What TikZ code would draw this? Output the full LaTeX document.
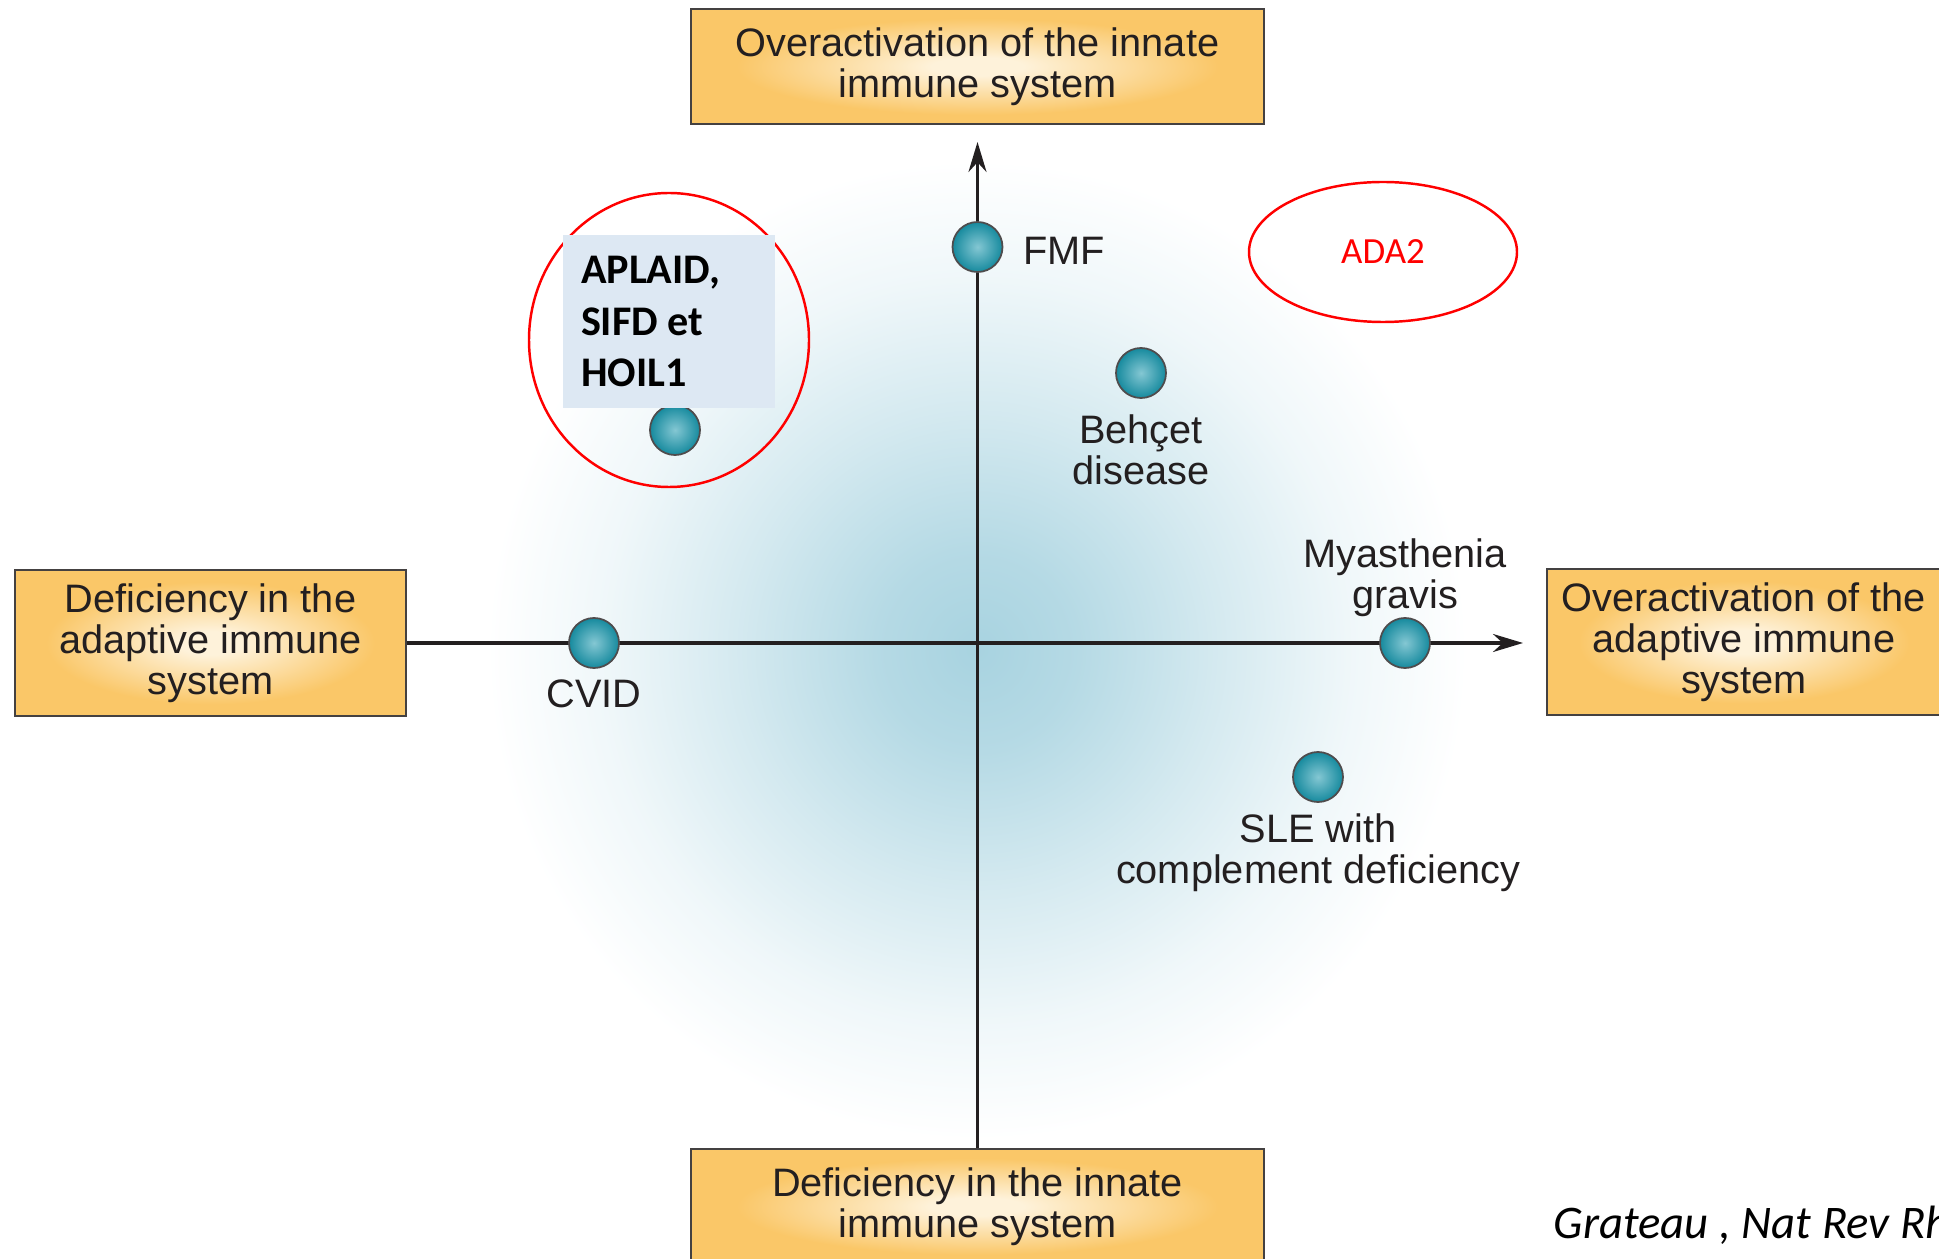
\documentclass[tikz,border=0pt]{standalone}
\usepackage{fontspec}
\setmainfont{Liberation Sans}
\newfontfamily\calibri{Carlito}
\usepackage{tikz}
\usetikzlibrary{shapes,arrows,arrows.meta,positioning,calc}
\definecolor{ink}{RGB}{35,31,32}
\definecolor{boxout}{RGB}{250,199,104}
\definecolor{boxin}{RGB}{254,242,218}
\definecolor{glowc}{RGB}{168,211,224}
\definecolor{dotout}{RGB}{22,138,158}
\definecolor{dotin}{RGB}{132,199,211}
\definecolor{tagblue}{RGB}{221,232,243}
\pgfdeclareradialshading{glowshade}{\pgfpoint{0bp}{0bp}}{color(0bp)=(glowc); color(5bp)=(glowc!85!white); color(12bp)=(glowc!50!white); color(19bp)=(glowc!18!white); color(25bp)=(white); color(50bp)=(white)}
\pgfdeclareradialshading{boxshade}{\pgfpoint{0bp}{0bp}}{color(0bp)=(boxin); color(4bp)=(boxin); color(21bp)=(boxout); color(50bp)=(boxout)}
\pgfdeclareradialshading{dotshade}{\pgfpoint{0bp}{0bp}}{color(0bp)=(dotin); color(25bp)=(dotout); color(50bp)=(dotout)}
\newcommand{\lblfont}{\fontsize{11.3}{11.7}\selectfont}

\begin{document}
\begin{tikzpicture}[
        ibox/.style={draw=ink!85, line width=0.6pt, shade, shading=boxshade, align=center, text=ink, font=\lblfont},
        dot/.style={circle, minimum size=0.5cm, inner sep=0pt, draw=ink!80, line width=0.5pt, shade, shading=dotshade},
        lbl/.style={text=ink, font=\lblfont, align=center, inner sep=0pt},
        axis/.style={ink, line width=0.9pt, -{Stealth[length=3mm, width=1.8mm]}},
        redline/.style={draw=red, line width=0.7pt}]
    \useasboundingbox (0,0) rectangle (19.39,-12.59);
    \clip (0,0) rectangle (19.39,-12.59);
    \shade[shading=glowshade] (9.77,-6.5) circle (4.9cm);

    \node[ibox, minimum width=5.73cm, minimum height=1.15cm] (ovinnate) at (9.775,-0.665) {Overactivation of the innate\\immune system};
    \node[ibox, minimum width=5.73cm, minimum height=1.15cm] (definnate) at (9.775,-12.065) {Deficiency in the innate\\immune system};
    \node[ibox, minimum width=3.91cm, minimum height=1.46cm] (defadapt) at (2.105,-6.43) {Deficiency in the\\adaptive immune\\system};
    \node[ibox, minimum width=3.94cm, minimum height=1.46cm] (ovadapt) at (17.44,-6.42) {Overactivation of the\\adaptive immune\\system};

    \coordinate (ytip) at (9.775,-1.42);
    \coordinate (xtip) at (15.23,-6.43);
    \draw[axis] (definnate.north) -- (ytip);
    \draw[axis] (defadapt.east) -- (xtip);

    \draw[redline] (6.69,-3.40) ellipse (1.40cm and 1.47cm);
    \node[redline, ellipse, minimum width=2.68cm, minimum height=1.40cm, text=red, font=\calibri\fontsize{10.5}{12}\selectfont] (ada) at (13.83,-2.52) {ADA2};

    \node[dot] (fmf) at (9.775,-2.47) {};
    \node[dot] (behcet) at (11.41,-3.73) {};
    \node[dot] (aplaid) at (6.75,-4.30) {};
    \node[dot] (cvid) at (5.94,-6.43) {};
    \node[dot] (myas) at (14.05,-6.43) {};
    \node[dot] (sle) at (13.18,-7.77) {};

    \node[lbl, right=0.19cm of fmf, yshift=-0.04cm] (fmflbl) {FMF};
    \node[lbl, below=0.15cm of behcet] (behcetlbl) {Behçet\\disease};
    \node[lbl, below=0.1cm of cvid] (cvidlbl) {CVID};
    \node[lbl, above=0cm of myas] (myaslbl) {Myasthenia\\gravis};
    \node[lbl, below=0.1cm of sle] (slelbl) {SLE with\\complement deficiency};

    \node[fill=tagblue, minimum width=2.12cm, minimum height=1.73cm, inner xsep=0.18cm, text width=1.76cm, align=flush left, font=\calibri\bfseries\fontsize{12}{14.6}\selectfont] (tag) at (6.69,-3.215) {APLAID,\\SIFD et\\HOIL1};

    \node[anchor=base west, inner sep=0pt, font=\calibri\itshape\fontsize{13.3}{15}\selectfont] (cite) at (15.53,-12.38) {Grateau , Nat Rev Rh};
\end{tikzpicture}
\end{document}
